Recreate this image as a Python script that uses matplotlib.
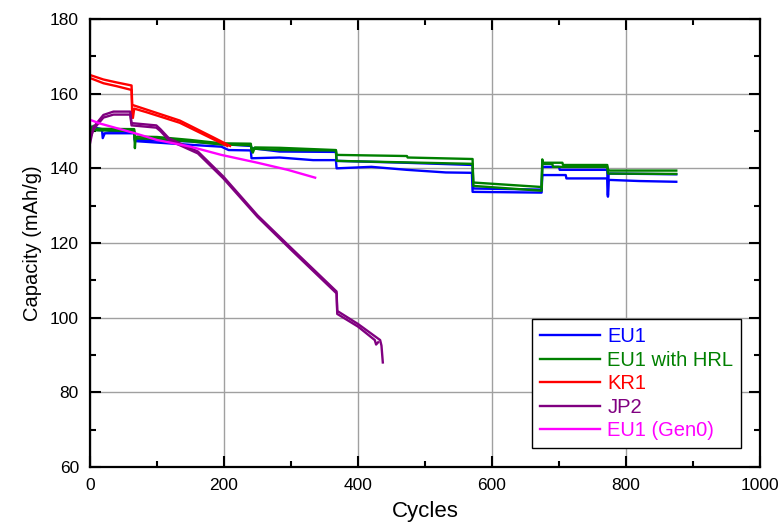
import matplotlib
matplotlib.use("Agg")
import matplotlib.pyplot as plt
from matplotlib.ticker import MultipleLocator

plt.rcParams['font.family'] = ['Liberation Sans', 'DejaVu Sans']

# EU1 (blue), two cells
eu1_a_cyc = [0, 10, 18, 19, 22, 66, 67, 150, 196, 207, 240, 241, 283, 333, 367, 368, 420, 473, 531, 570, 571, 674, 675, 710, 711, 772, 773, 774, 775, 820, 875]
eu1_a_cap = [151, 150.3, 150.2, 148.1, 149.4, 149.4, 147.3, 146.3, 145.8, 144.9, 144.8, 142.7, 142.9, 142.2, 142.2, 140, 140.4, 139.6, 138.9, 138.8, 133.7, 133.5, 138.2, 138.2, 137.3, 137.3, 132.8, 136.9, 136.9, 136.6, 136.4]
eu1_b_cyc = [0, 10, 30, 66, 67, 150, 196, 240, 241, 283, 367, 368, 470, 571, 572, 674, 675, 700, 701, 772, 773, 774, 775, 830, 875]
eu1_b_cap = [151.2, 150.8, 150, 149.8, 147.6, 147.2, 146.5, 146, 145.4, 144.5, 144.4, 142, 141.5, 140.9, 134.6, 134.3, 140.4, 140.4, 139.6, 139.6, 132.4, 138.6, 138.6, 138.5, 138.4]

# EU1 with HRL (green), two cells
hrl_a_cyc = [0, 3, 5, 8, 66, 67, 68, 70, 100, 150, 196, 240, 241, 243, 246, 283, 367, 368, 473, 474, 571, 572, 674, 675, 676, 705, 706, 772, 773, 774, 875]
hrl_a_cap = [151.6, 150, 151.4, 150.6, 150.5, 145.4, 148.2, 148.5, 148.4, 147.6, 146.7, 146.6, 144.9, 144.2, 145.6, 145.5, 144.9, 143.6, 143.3, 142.9, 142.5, 136.2, 135, 142.4, 141.5, 141.5, 140.9, 140.9, 139.7, 139.4, 139.4]
hrl_b_cyc = [0, 8, 66, 67, 70, 100, 150, 196, 240, 241, 283, 367, 368, 470, 571, 572, 674, 675, 690, 691, 772, 773, 875]
hrl_b_cap = [151, 150.2, 150, 147.8, 148, 147.9, 147.2, 146.4, 146.2, 145.3, 144.9, 144.8, 142, 141.6, 141.2, 135.3, 134, 141.2, 141.2, 140.4, 140.4, 138.6, 138.5]

# KR1 (red), two cells
kr1_a_cyc = [0, 20, 40, 62, 63, 85, 134, 184, 209]
kr1_a_cap = [165, 163.8, 163, 162.2, 157, 155.7, 152.8, 148.3, 146]
kr1_b_cyc = [0, 20, 40, 62, 63, 64, 66, 85, 134, 184, 205]
kr1_b_cap = [164.2, 162.8, 162, 161, 154, 153.5, 156, 155, 152.2, 147.8, 146]

# JP2 (purple), two cells
jp2_a_cyc = [0, 5, 10, 20, 35, 60, 62, 63, 99, 105, 118, 161, 199, 250, 300, 368, 369, 400, 433, 435, 437]
jp2_a_cap = [146.7, 151, 152.1, 154.3, 155.2, 155.2, 152.1, 152.1, 151.5, 150.5, 148, 144.5, 137.8, 127.4, 118.7, 107, 101.8, 98.3, 94, 92.5, 88]
jp2_b_cyc = [0, 5, 10, 20, 35, 60, 62, 63, 99, 105, 118, 161, 199, 250, 300, 368, 369, 400, 425, 427, 430]
jp2_b_cap = [148, 150.3, 151.5, 153.6, 154.4, 154.4, 151.5, 151.5, 150.9, 150, 147.5, 144, 137.3, 127, 118.2, 106.5, 101, 97.6, 94, 92.8, 93.4]

# EU1 (Gen0) (magenta)
gen0_cyc = [0, 15, 67, 100, 150, 196, 250, 295, 336]
gen0_cap = [153, 152, 149.4, 147.6, 145.8, 143.6, 141.5, 139.6, 137.5]

fig = plt.figure(figsize=(7.8, 5.27), dpi=100)
ax = fig.add_axes([0.1154, 0.1139, 0.8590, 0.8500])

lw = 1.7
ax.plot(eu1_a_cyc, eu1_a_cap, color='#0000ff', lw=lw, label='EU1')
ax.plot(eu1_b_cyc, eu1_b_cap, color='#0000ff', lw=lw)
ax.plot(hrl_a_cyc, hrl_a_cap, color='#008000', lw=lw, label='EU1 with HRL')
ax.plot(hrl_b_cyc, hrl_b_cap, color='#008000', lw=lw)
ax.plot(kr1_a_cyc, kr1_a_cap, color='#ff0000', lw=lw, label='KR1')
ax.plot(kr1_b_cyc, kr1_b_cap, color='#ff0000', lw=lw)
ax.plot(jp2_a_cyc, jp2_a_cap, color='#800080', lw=lw, label='JP2')
ax.plot(jp2_b_cyc, jp2_b_cap, color='#800080', lw=lw)
ax.plot(gen0_cyc, gen0_cap, color='#ff00ff', lw=lw, label='EU1 (Gen0)')

ax.set_xlim(0, 1000)
ax.set_ylim(60, 180)
ax.xaxis.set_major_locator(MultipleLocator(200))
ax.xaxis.set_minor_locator(MultipleLocator(100))
ax.yaxis.set_major_locator(MultipleLocator(20))
ax.yaxis.set_minor_locator(MultipleLocator(10))
ax.grid(True, which='major', color='#a0a0a0', lw=1)
ax.set_axisbelow(True)

ax.tick_params(which='both', direction='in', top=True, right=True, width=1.5, labelsize=12.5, colors='black')
ax.tick_params(which='major', length=8, pad=8)
ax.tick_params(which='minor', length=4.5)
for s in ax.spines.values():
    s.set_linewidth(1.6)

ax.set_xlabel('Cycles', fontsize=16, labelpad=6)
ax.set_ylabel('Capacity (mAh/g)', fontsize=14.5, labelpad=6)

leg = ax.legend(loc='lower right', bbox_to_anchor=(0.972, 0.042), fontsize=14.5, labelcolor='linecolor',
                fancybox=False, framealpha=1, edgecolor='black', handlelength=3.0,
                borderpad=0.4, labelspacing=0.22, handletextpad=0.35, borderaxespad=0)
leg.get_frame().set_linewidth(1)
plt.setp(leg.get_lines(), linewidth=1.7)

fig.savefig('out.png', dpi=100)
